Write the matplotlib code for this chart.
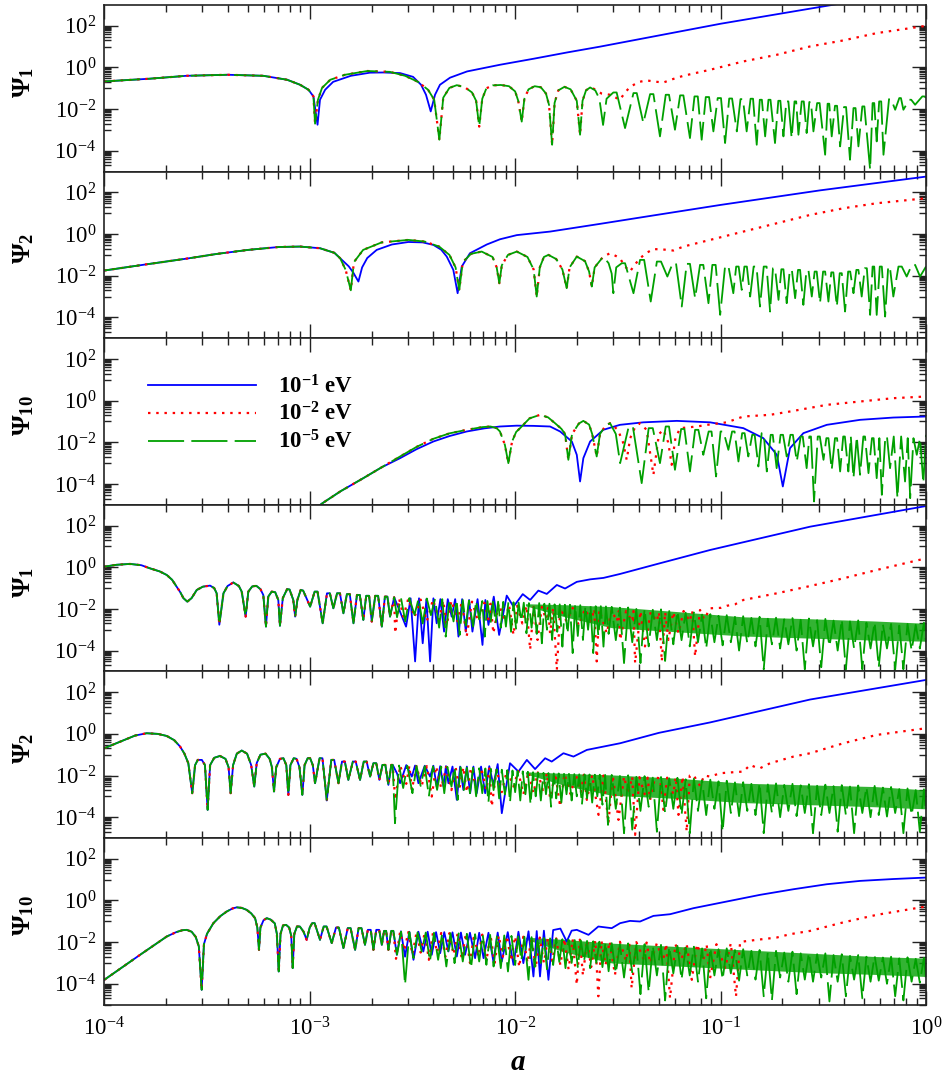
import numpy as np
import matplotlib
matplotlib.use("Agg")
import matplotlib.pyplot as plt
from matplotlib.lines import Line2D
from matplotlib.ticker import FixedLocator, LogLocator, LogFormatterMathtext, NullFormatter

plt.rcParams['font.family'] = 'serif'
plt.rcParams['font.serif'] = ['Liberation Serif', 'DejaVu Serif']
plt.rcParams['mathtext.fontset'] = 'custom'
plt.rcParams['mathtext.rm'] = 'Liberation Serif'
plt.rcParams['mathtext.it'] = 'Liberation Serif:italic'
plt.rcParams['mathtext.bf'] = 'Liberation Serif:bold'

# --- data, pairs of (log10 a, log10 Psi) ---
# top group, Psi_1
t1_all = [(-4.0, -0.67), (-3.78, -0.54), (-3.6, -0.40), (-3.4, -0.35), (-3.226, -0.40), (-3.11, -0.59),
          (-3.047, -0.83), (-3.006, -1.07), (-2.982, -1.39)]
t1_blue = [(-2.962, -2.75), (-2.95, -1.55), (-2.925, -1.07), (-2.886, -0.69), (-2.8, -0.40), (-2.707, -0.25),
           (-2.643, -0.24), (-2.56, -0.27), (-2.497, -0.45), (-2.458, -0.83), (-2.434, -1.31), (-2.411, -2.11),
           (-2.39, -1.31), (-2.366, -0.83), (-2.317, -0.49), (-2.234, -0.19), (-2.074, 0.13), (-1.91, 0.42),
           (-1.748, 0.72), (-1.587, 1.0), (-1.0, 2.1), (-0.459, 3.0), (0.0, 3.8)]
t1_rg = [(-2.974, -2.7), (-2.96, -1.55), (-2.94, -0.98), (-2.9, -0.59), (-2.828, -0.35), (-2.72, -0.17),
         (-2.61, -0.21), (-2.536, -0.40), (-2.473, -0.69), (-2.424, -1.07), (-2.394, -1.55), (-2.369, -3.47),
         (-2.35, -1.45), (-2.32, -0.98), (-2.284, -0.85), (-2.245, -0.95), (-2.21, -1.2), (-2.19, -1.6),
         (-2.175, -2.84), (-2.16, -1.5), (-2.14, -1.0), (-2.11, -0.86), (-2.07, -0.84), (-2.03, -0.9),
         (-2.0, -1.15), (-1.985, -1.6), (-1.968, -2.6), (-1.955, -1.5), (-1.935, -1.05), (-1.905, -0.9),
         (-1.875, -0.95), (-1.85, -1.25), (-1.835, -1.8), (-1.82, -3.71), (-1.808, -1.7), (-1.79, -1.1),
         (-1.76, -0.93), (-1.73, -1.05), (-1.7, -1.6), (-1.684, -3.23), (-1.672, -1.6), (-1.655, -1.1),
         (-1.635, -0.96)]
t1_red = [(-1.61, -1.05), (-1.58, -1.25), (-1.538, -1.31), (-1.51, -1.45), (-1.49, -1.55), (-1.465, -1.2),
          (-1.441, -0.94), (-1.4, -0.70), (-1.36, -0.62), (-1.32, -0.68), (-1.278, -0.72), (-1.23, -0.55),
          (-1.181, -0.40), (-1.051, -0.11), (-0.889, 0.29), (-0.726, 0.61), (-0.564, 1.01), (-0.402, 1.30),
          (-0.24, 1.65), (0.0, 2.0)]
t1_green = [(-1.61, -1.1), (-1.59, -1.5), (-1.572, -2.76), (-1.555, -1.5), (-1.522, -1.20), (-1.506, -1.20),
            (-1.465, -2.91), (-1.424, -1.23), (-1.408, -1.23), (-1.376, -2.67), (-1.343, -1.28), (-1.327, -1.28),
            (-1.295, -3.31), (-1.267, -1.31), (-1.251, -1.31), (-1.222, -2.99), (-1.197, -1.34), (-1.181, -1.34),
            (-1.149, -3.39), (-1.127, -1.39), (-1.111, -1.39), (-1.092, -3.47), (-1.072, -1.42), (-1.056, -1.42),
            (-1.035, -3.07), (-1.014, -1.47), (-0.998, -1.47), (-0.978, -3.63), (-0.958, -1.49), (-0.944, -1.49),
            (-0.921, -3.07), (-0.903, -1.52), (-0.891, -1.52), (-0.873, -3.07), (-0.854, -1.50), (-0.842, -1.50),
            (-0.824, -3.71), (-0.809, -1.55), (-0.799, -1.55), (-0.783, -3.31), (-0.767, -1.55), (-0.757, -1.55),
            (-0.735, -3.63), (-0.719, -1.60), (-0.709, -1.60), (-0.694, -3.31), (-0.68, -1.63), (-0.67, -1.63),
            (-0.654, -3.39), (-0.64, -1.63), (-0.632, -1.63), (-0.621, -3.23), (-0.605, -1.63), (-0.595, -1.63),
            (-0.581, -3.15), (-0.568, -1.66), (-0.56, -1.66), (-0.548, -3.07), (-0.53, -1.71), (-0.518, -1.71),
            (-0.491, -4.19), (-0.479, -1.74), (-0.471, -1.74), (-0.459, -3.31), (-0.443, -1.84), (-0.433, -1.84),
            (-0.418, -3.79), (-0.399, -1.90), (-0.389, -1.90), (-0.37, -4.43), (-0.353, -1.95), (-0.343, -1.95),
            (-0.329, -3.79), (-0.31, -1.87), (-0.3, -1.87), (-0.272, -4.91), (-0.26, -1.71), (-0.252, -1.71),
            (-0.24, -3.55), (-0.228, -1.63), (-0.218, -1.63), (-0.207, -4.19), (-0.18, -1.52), (-0.17, -1.52),
            (-0.15, -2.03), (-0.13, -1.47), (-0.122, -1.47), (-0.11, -2.03), (-0.082, -1.55), (-0.072, -1.55),
            (-0.053, -1.79), (-0.018, -1.39), (-0.008, -1.39), (0.0, -1.45)]

# top group, Psi_2
t2_all = [(-4.0, -1.75), (-3.8, -1.46), (-3.6, -1.18), (-3.45, -0.95), (-3.3, -0.76), (-3.15, -0.62),
          (-3.047, -0.60), (-2.95, -0.68), (-2.88, -0.9), (-2.852, -1.16)]
t2_blue = [(-2.81, -1.55), (-2.788, -1.85), (-2.763, -2.28), (-2.745, -1.6), (-2.72, -1.15), (-2.674, -0.76),
           (-2.6, -0.50), (-2.52, -0.38), (-2.45, -0.40), (-2.398, -0.52), (-2.36, -0.75), (-2.333, -1.08),
           (-2.301, -1.72), (-2.28, -2.84), (-2.26, -1.56), (-2.22, -0.92), (-2.138, -0.50), (-2.074, -0.25),
           (-1.992, -0.05), (-1.83, 0.12), (-1.587, 0.49), (-1.343, 0.87), (-1.0, 1.40), (-0.515, 2.10),
           (0.0, 2.76)]
t2_rg = [(-2.825, -1.72), (-2.8, -2.7), (-2.785, -1.35), (-2.74, -0.76), (-2.65, -0.40), (-2.52, -0.28),
         (-2.44, -0.36), (-2.37, -0.60), (-2.32, -1.0), (-2.29, -1.6), (-2.272, -2.68), (-2.255, -1.35),
         (-2.215, -0.95), (-2.163, -0.84), (-2.11, -1.1), (-2.09, -1.6), (-2.077, -2.36), (-2.065, -1.5),
         (-2.035, -1.0), (-1.992, -0.84), (-1.94, -1.1), (-1.91, -1.7), (-1.895, -3.0), (-1.88, -1.6),
         (-1.86, -1.1), (-1.838, -1.0), (-1.8, -1.2), (-1.77, -1.7), (-1.749, -2.6), (-1.735, -1.6),
         (-1.7, -1.08), (-1.66, -1.3), (-1.64, -1.8), (-1.627, -2.52), (-1.613, -1.6), (-1.571, -1.08)]
t2_red = [(-1.538, -0.92), (-1.51, -1.05), (-1.49, -1.16), (-1.465, -1.56), (-1.441, -1.8), (-1.42, -1.5),
          (-1.392, -1.16), (-1.36, -0.9), (-1.327, -0.72), (-1.28, -0.74), (-1.23, -0.79), (-1.181, -0.60),
          (-1.051, -0.28), (-0.889, 0.12), (-0.726, 0.52), (-0.564, 0.92), (-0.402, 1.24), (-0.24, 1.48),
          (0.0, 1.72)]
t2_green = [(-1.545, -1.4), (-1.53, -1.9), (-1.522, -2.84), (-1.508, -1.6), (-1.481, -1.40), (-1.465, -1.40),
            (-1.424, -2.84), (-1.392, -1.24), (-1.372, -1.24), (-1.34, -3.24), (-1.31, -1.32), (-1.29, -1.32),
            (-1.259, -2.04), (-1.233, -1.40), (-1.217, -1.40), (-1.189, -3.48), (-1.165, -1.43), (-1.149, -1.43),
            (-1.124, -3.08), (-1.1, -1.48), (-1.084, -1.48), (-1.059, -3.32), (-1.04, -1.48), (-1.024, -1.48),
            (-1.002, -3.88), (-0.978, -1.53), (-0.962, -1.53), (-0.938, -2.84), (-0.924, -1.56), (-0.912, -1.56),
            (-0.897, -2.68), (-0.884, -1.56), (-0.872, -1.56), (-0.856, -3.00), (-0.839, -1.56), (-0.825, -1.56),
            (-0.808, -3.48), (-0.79, -1.56), (-0.776, -1.56), (-0.759, -3.72), (-0.745, -1.64), (-0.735, -1.64),
            (-0.718, -3.16), (-0.704, -1.69), (-0.694, -1.69), (-0.678, -3.32), (-0.663, -1.72), (-0.653, -1.72),
            (-0.637, -3.08), (-0.623, -1.72), (-0.613, -1.72), (-0.597, -3.40), (-0.582, -1.75), (-0.572, -1.75),
            (-0.556, -3.00), (-0.542, -1.80), (-0.532, -1.80), (-0.516, -3.32), (-0.501, -1.80), (-0.491, -1.80),
            (-0.475, -3.24), (-0.461, -1.84), (-0.451, -1.84), (-0.434, -3.48), (-0.42, -1.88), (-0.41, -1.88),
            (-0.394, -3.72), (-0.379, -1.80), (-0.369, -1.80), (-0.353, -2.84), (-0.339, -1.72), (-0.329, -1.72),
            (-0.313, -3.00), (-0.298, -1.64), (-0.288, -1.64), (-0.272, -3.88), (-0.26, -1.56), (-0.252, -1.56),
            (-0.24, -3.88), (-0.225, -1.56), (-0.215, -1.56), (-0.199, -3.96), (-0.184, -1.56), (-0.176, -1.56),
            (-0.159, -3.00), (-0.134, -1.56), (-0.118, -1.56), (-0.094, -2.04), (-0.069, -1.48), (-0.053, -1.48),
            (-0.029, -2.04), (0.0, -1.56)]

# top group, Psi_10
t10_all = [(-2.96, -5.1), (-2.942, -4.95), (-2.85, -4.35), (-2.739, -3.72), (-2.65, -3.2)]
t10_blue = [(-2.56, -2.76), (-2.48, -2.33), (-2.398, -1.96), (-2.32, -1.7), (-2.236, -1.48), (-2.15, -1.33),
            (-2.074, -1.24), (-1.992, -1.20), (-1.911, -1.21), (-1.83, -1.24), (-1.781, -1.48), (-1.724, -1.96),
            (-1.7, -2.60), (-1.684, -3.88), (-1.668, -2.76), (-1.635, -1.96), (-1.571, -1.40), (-1.49, -1.16),
            (-1.376, -1.04), (-1.213, -0.97), (-1.051, -1.04), (-0.889, -1.32), (-0.792, -1.80), (-0.726, -2.60),
            (-0.697, -4.12), (-0.662, -2.28), (-0.597, -1.56), (-0.483, -1.16), (-0.321, -0.92), (-0.159, -0.81),
            (0.0, -0.76)]
t10_rg = [(-2.56, -2.68), (-2.48, -2.22), (-2.398, -1.83), (-2.32, -1.57), (-2.236, -1.40), (-2.16, -1.27),
          (-2.12, -1.24), (-2.09, -1.32), (-2.074, -1.48), (-2.05, -2.12), (-2.033, -3.0), (-2.015, -1.96),
          (-1.995, -1.5), (-1.976, -1.32), (-1.93, -0.85), (-1.879, -0.68), (-1.84, -0.8), (-1.806, -1.08),
          (-1.775, -1.35), (-1.757, -1.6), (-1.741, -2.84), (-1.723, -1.6), (-1.69, -1.1), (-1.668, -0.97),
          (-1.64, -1.15), (-1.625, -1.6), (-1.603, -2.68), (-1.587, -1.6), (-1.56, -1.2), (-1.538, -1.08)]
t10_red = [(-1.5, -1.4), (-1.475, -2.0), (-1.457, -2.84), (-1.44, -1.8), (-1.415, -1.25), (-1.392, -1.08),
           (-1.36, -1.4), (-1.327, -3.56), (-1.3, -1.6), (-1.278, -1.40), (-1.255, -2.0), (-1.238, -3.08),
           (-1.22, -1.8), (-1.197, -1.32), (-1.116, -1.24), (-1.051, -1.14), (-0.97, -1.04), (-0.889, -0.76),
           (-0.759, -0.68), (-0.662, -0.52), (-0.483, -0.20), (-0.321, -0.04), (-0.159, 0.12), (0.0, 0.20)]
t10_green = [(-1.51, -1.6), (-1.489, -3.00), (-1.447, -1.24), (-1.427, -1.24), (-1.384, -3.96), (-1.35, -1.32),
             (-1.33, -1.32), (-1.295, -3.00), (-1.267, -1.24), (-1.251, -1.24), (-1.222, -3.32), (-1.192, -1.36),
             (-1.176, -1.36), (-1.149, -3.40), (-1.124, -1.40), (-1.108, -1.40), (-1.084, -2.60), (-1.058, -1.48),
             (-1.044, -1.48), (-1.022, -3.64), (-1.0, -1.48), (-0.986, -1.48), (-0.962, -2.36), (-0.944, -1.48),
             (-0.932, -1.48), (-0.913, -2.92), (-0.895, -1.56), (-0.883, -1.56), (-0.865, -2.68), (-0.846, -1.64),
             (-0.834, -1.64), (-0.816, -3.16), (-0.8, -1.56), (-0.79, -1.56), (-0.775, -3.40), (-0.756, -1.64),
             (-0.746, -1.64), (-0.727, -3.24), (-0.708, -1.64), (-0.696, -1.64), (-0.678, -2.68), (-0.66, -1.64),
             (-0.648, -1.64), (-0.629, -2.92), (-0.61, -1.72), (-0.6, -1.72), (-0.581, -3.24), (-0.568, -1.72),
             (-0.56, -1.72), (-0.545, -4.84), (-0.527, -1.72), (-0.517, -1.72), (-0.499, -2.84), (-0.485, -1.80),
             (-0.475, -1.80), (-0.459, -3.32), (-0.443, -1.80), (-0.433, -1.80), (-0.418, -3.40), (-0.403, -1.72),
             (-0.395, -1.72), (-0.378, -3.40), (-0.366, -1.72), (-0.353, -3.72), (-0.337, -1.72), (-0.321, -3.56),
             (-0.305, -1.72), (-0.297, -1.72), (-0.28, -3.48), (-0.263, -1.80), (-0.255, -1.80), (-0.24, -3.72),
             (-0.227, -1.80), (-0.215, -4.52), (-0.198, -1.72), (-0.19, -1.72), (-0.175, -3.24), (-0.157, -1.72),
             (-0.139, -4.68), (-0.121, -1.72), (-0.102, -3.88), (-0.089, -1.80), (-0.077, -4.68), (-0.061, -1.80),
             (-0.045, -2.60), (-0.029, -1.80), (-0.013, -3.96), (0.0, -1.64)]

# bottom group, Psi_1
b1_all = [(-4.0, 0.03), (-3.94, 0.12), (-3.875, 0.16), (-3.82, 0.10), (-3.778, -0.05), (-3.73, -0.2),
          (-3.696, -0.37), (-3.67, -0.6), (-3.648, -0.93), (-3.63, -1.2), (-3.615, -1.48), (-3.596, -1.65),
          (-3.575, -1.48), (-3.55, -1.09), (-3.52, -0.93), (-3.485, -0.88), (-3.465, -1.0), (-3.453, -1.25),
          (-3.44, -2.76), (-3.42, -1.25), (-3.4, -0.9), (-3.372, -0.73), (-3.345, -0.9), (-3.331, -1.17),
          (-3.312, -2.37), (-3.299, -1.17), (-3.28, -0.92), (-3.26, -0.89), (-3.24, -1.05), (-3.226, -1.33),
          (-3.213, -2.85), (-3.202, -1.41), (-3.185, -1.17), (-3.168, -1.2), (-3.153, -1.57), (-3.145, -2.81),
          (-3.131, -1.48), (-3.11, -1.05), (-3.098, -1.07), (-3.08, -1.57), (-3.071, -2.37), (-3.06, -1.57),
          (-3.044, -1.09), (-3.032, -1.12), (-3.012, -1.57), (-2.998, -1.89), (-2.976, -1.17), (-2.962, -1.17),
          (-2.937, -2.69), (-2.916, -1.25), (-2.902, -1.25), (-2.885, -1.97), (-2.867, -1.25), (-2.853, -1.25),
          (-2.836, -2.21), (-2.819, -1.29), (-2.805, -1.29), (-2.787, -2.69), (-2.77, -1.33), (-2.756, -1.33),
          (-2.739, -2.53), (-2.725, -1.37), (-2.711, -1.37), (-2.698, -2.61), (-2.681, -1.37), (-2.667, -1.37),
          (-2.649, -2.85), (-2.634, -1.41), (-2.622, -1.41), (-2.609, -2.37), (-2.589, -1.44)]
b1_blue = [(-2.531, -2.85), (-2.509, -1.49), (-2.487, -4.52), (-2.468, -1.49), (-2.45, -3.65), (-2.432, -1.53),
           (-2.414, -4.52), (-2.398, -1.49), (-2.382, -2.69), (-2.364, -1.53), (-2.346, -3.09), (-2.328, -1.53),
           (-2.309, -2.37), (-2.292, -1.53), (-2.276, -3.33), (-2.258, -1.53), (-2.24, -3.09), (-2.224, -1.57),
           (-2.208, -3.09), (-2.183, -1.53), (-2.159, -3.73), (-2.145, -1.57), (-2.13, -2.77), (-2.104, -1.41),
           (-2.078, -3.25), (-2.041, -1.36), (-2.008, -1.89), (-1.963, -1.29), (-1.927, -1.57), (-1.887, -1.12),
           (-1.846, -1.28), (-1.797, -0.85), (-1.757, -1.02), (-1.7, -0.70), (-1.635, -0.58), (-1.57, -0.51),
           (-1.489, -0.32), (-1.3, 0.18), (-1.051, 0.83), (-0.564, 1.95), (0.0, 2.94)]
b1_red = [(-2.584, -3.17), (-2.565, -1.5), (-2.544, -2.37), (-2.52, -1.5), (-2.49, -2.4), (-2.46, -1.55),
          (-2.43, -2.6), (-2.4, -1.55), (-2.37, -2.5), (-2.35, -1.6), (-2.333, -2.77), (-2.31, -1.6),
          (-2.28, -2.6), (-2.26, -1.65), (-2.236, -3.33), (-2.21, -1.65), (-2.18, -2.6), (-2.15, -1.7),
          (-2.13, -2.5), (-2.12, -1.75), (-2.106, -3.17), (-2.08, -1.75), (-2.05, -2.6), (-2.03, -1.8),
          (-2.008, -3.25), (-1.99, -1.85), (-1.965, -2.7), (-1.945, -1.85), (-1.927, -3.96), (-1.91, -1.9),
          (-1.891, -3.49), (-1.87, -1.9), (-1.85, -2.5), (-1.84, -1.95), (-1.83, -3.17), (-1.815, -1.95),
          (-1.797, -4.92), (-1.78, -1.95), (-1.75, -2.6), (-1.72, -1.95), (-1.69, -2.8), (-1.66, -2.0),
          (-1.63, -2.6), (-1.615, -2.0), (-1.603, -4.52), (-1.59, -2.05), (-1.554, -3.17), (-1.53, -2.05),
          (-1.505, -2.6), (-1.495, -2.1), (-1.489, -3.49), (-1.46, -2.1), (-1.43, -2.6), (-1.424, -2.1),
          (-1.416, -4.6), (-1.39, -2.1), (-1.368, -3.8), (-1.34, -2.15), (-1.31, -2.6), (-1.3, -2.15),
          (-1.286, -4.52), (-1.27, -2.15), (-1.254, -3.49), (-1.23, -2.15), (-1.205, -3.17), (-1.18, -2.1),
          (-1.15, -2.6), (-1.138, -2.1), (-1.124, -4.28), (-1.1, -2.05), (-1.08, -2.5), (-1.051, -1.97),
          (-1.0, -1.95), (-0.97, -1.85), (-0.93, -1.78), (-0.889, -1.57), (-0.808, -1.41), (-0.726, -1.25),
          (-0.564, -0.90), (-0.402, -0.53), (-0.24, -0.13), (0.0, 0.43)]
b1_green = [(-2.575, -2.4), (-2.556, -1.46), (-2.535, -2.6), (-2.515, -1.48), (-2.49, -2.29), (-2.47, -1.5),
            (-2.45, -2.7), (-2.43, -1.5), (-2.41, -2.3), (-2.39, -1.52), (-2.37, -2.9), (-2.355, -1.53),
            (-2.338, -3.33), (-2.32, -1.55), (-2.3, -2.6), (-2.285, -1.55), (-2.27, -3.25), (-2.255, -1.57),
            (-2.24, -2.8), (-2.225, -1.6), (-2.205, -2.85), (-2.19, -1.6), (-2.175, -2.5), (-2.16, -1.62),
            (-2.148, -3.33), (-2.135, -1.62), (-2.12, -2.7), (-2.108, -1.65), (-2.095, -2.69), (-2.083, -1.65),
            (-2.07, -2.9), (-2.058, -1.66), (-2.045, -2.85), (-2.033, -1.68), (-2.02, -3.1), (-2.008, -1.68),
            (-1.995, -3.01), (-1.983, -1.7), (-1.97, -2.6), (-1.958, -1.7), (-1.945, -3.17), (-1.933, -1.72),
            (-1.92, -2.9), (-1.908, -1.72), (-1.895, -3.2), (-1.883, -1.72), (-1.87, -3.65), (-1.858, -1.75),
            (-1.845, -3.0), (-1.833, -1.75), (-1.82, -3.49), (-1.808, -1.78), (-1.795, -3.1), (-1.783, -1.78),
            (-1.77, -3.81), (-1.758, -1.8), (-1.745, -3.2), (-1.733, -1.8), (-1.72, -4.12), (-1.708, -1.8),
            (-1.695, -3.3), (-1.683, -1.82), (-1.67, -3.49), (-1.658, -1.85), (-1.645, -3.0), (-1.633, -1.85),
            (-1.62, -4.12), (-1.608, -1.87), (-1.595, -3.3), (-1.583, -1.87), (-1.57, -3.81), (-1.558, -1.88),
            (-1.545, -3.2)]

# bottom group, Psi_2
b2_all = [(-4.0, -0.69), (-3.922, -0.37), (-3.85, -0.08), (-3.794, 0.03), (-3.74, 0.0), (-3.696, -0.10),
          (-3.66, -0.3), (-3.631, -0.61), (-3.61, -0.95), (-3.591, -1.41), (-3.572, -2.85), (-3.558, -1.5),
          (-3.545, -1.25), (-3.525, -1.25), (-3.51, -1.5), (-3.497, -3.65), (-3.485, -1.5), (-3.465, -1.15),
          (-3.437, -1.06), (-3.41, -1.2), (-3.395, -1.6), (-3.385, -2.85), (-3.373, -1.5), (-3.355, -0.95),
          (-3.331, -0.80), (-3.305, -0.95), (-3.285, -1.5), (-3.27, -2.53), (-3.258, -1.4), (-3.24, -1.0),
          (-3.215, -0.95), (-3.195, -1.2), (-3.184, -1.6), (-3.174, -2.77), (-3.163, -1.6), (-3.145, -1.2),
          (-3.128, -1.17), (-3.114, -1.5), (-3.104, -2.93), (-3.094, -1.5), (-3.078, -1.17), (-3.064, -1.2),
          (-3.05, -1.6), (-3.036, -2.93), (-3.025, -1.5), (-3.01, -1.17), (-2.998, -1.17), (-2.985, -1.5),
          (-2.974, -2.37), (-2.952, -1.17), (-2.938, -1.17), (-2.917, -3.2), (-2.895, -1.25), (-2.881, -1.25),
          (-2.86, -2.37), (-2.843, -1.33), (-2.829, -1.33), (-2.812, -2.21), (-2.79, -1.33), (-2.776, -1.33),
          (-2.755, -2.21), (-2.737, -1.33), (-2.723, -1.33), (-2.706, -2.05), (-2.69, -1.41), (-2.676, -1.41),
          (-2.661, -2.21), (-2.646, -1.49), (-2.632, -1.49), (-2.617, -2.45), (-2.603, -1.49), (-2.596, -1.49)]
b2_blue = [(-2.575, -1.9), (-2.56, -2.37), (-2.53, -1.5), (-2.503, -2.05), (-2.487, -1.52), (-2.471, -2.37),
           (-2.44, -1.53), (-2.414, -2.05), (-2.398, -1.53), (-2.382, -2.53), (-2.365, -1.55), (-2.349, -2.53),
           (-2.337, -1.55), (-2.325, -2.37), (-2.305, -1.57), (-2.284, -3.17), (-2.268, -1.57), (-2.252, -2.69),
           (-2.235, -1.57), (-2.219, -2.85), (-2.203, -1.57), (-2.187, -2.85), (-2.166, -1.57), (-2.146, -2.85),
           (-2.126, -1.55), (-2.106, -2.45), (-2.085, -1.45), (-2.065, -3.81), (-2.025, -1.41), (-1.984, -1.81),
           (-1.943, -1.25), (-1.903, -1.69), (-1.854, -1.17), (-1.822, -1.33), (-1.765, -0.93), (-1.716, -1.09),
           (-1.651, -0.77), (-1.57, -0.61), (-1.489, -0.45), (-1.3, 0.05), (-1.051, 0.55), (-0.564, 1.65),
           (0.0, 2.59)]
b2_red = [(-2.584, -3.17), (-2.56, -1.52), (-2.53, -2.4), (-2.515, -1.53), (-2.503, -2.69), (-2.48, -1.54),
          (-2.455, -2.5), (-2.43, -1.55), (-2.406, -3.01), (-2.385, -1.56), (-2.36, -2.6), (-2.335, -1.58),
          (-2.31, -2.7), (-2.29, -1.59), (-2.272, -2.69), (-2.252, -1.6), (-2.235, -2.8), (-2.215, -1.62),
          (-2.19, -2.6), (-2.165, -1.64), (-2.14, -2.7), (-2.125, -1.66), (-2.114, -3.49), (-2.09, -1.7),
          (-2.065, -2.8), (-2.04, -1.74), (-2.008, -2.53), (-1.985, -1.78), (-1.96, -2.9), (-1.935, -1.82),
          (-1.911, -2.85), (-1.89, -1.85), (-1.865, -2.7), (-1.845, -1.88), (-1.83, -3.09), (-1.805, -1.9),
          (-1.781, -3.49), (-1.76, -1.92), (-1.73, -2.9), (-1.705, -1.94), (-1.68, -2.8), (-1.665, -1.96),
          (-1.651, -3.17), (-1.625, -1.98), (-1.594, -3.89), (-1.57, -2.0), (-1.546, -4.29), (-1.525, -2.0),
          (-1.497, -4.13), (-1.47, -2.05), (-1.45, -2.9), (-1.43, -2.05), (-1.416, -4.85), (-1.395, -2.08),
          (-1.37, -2.9), (-1.355, -2.1), (-1.343, -3.17), (-1.32, -2.1), (-1.295, -2.13), (-1.278, -3.65),
          (-1.26, -2.1), (-1.23, -2.9), (-1.218, -2.08), (-1.205, -3.89), (-1.185, -2.05), (-1.165, -4.69),
          (-1.15, -2.0), (-1.132, -1.97), (-1.1, -2.5), (-1.08, -2.0), (-1.051, -2.05), (-1.002, -1.89),
          (-0.95, -1.85), (-0.889, -1.81), (-0.856, -1.49), (-0.83, -1.6), (-0.808, -1.65), (-0.759, -1.41),
          (-0.645, -1.09), (-0.564, -0.93), (-0.402, -0.45), (-0.24, -0.05), (0.0, 0.27)]
b2_green = [(-2.585, -4.29), (-2.565, -1.52), (-2.545, -2.6), (-2.525, -1.53), (-2.5, -2.85), (-2.48, -1.54),
            (-2.46, -2.5), (-2.44, -1.55), (-2.42, -3.0), (-2.4, -1.56), (-2.38, -2.69), (-2.36, -1.57),
            (-2.345, -2.85), (-2.33, -1.58), (-2.31, -2.53), (-2.295, -1.59), (-2.28, -3.17), (-2.265, -1.6),
            (-2.25, -2.7), (-2.235, -1.62), (-2.22, -2.85), (-2.205, -1.63), (-2.19, -3.0), (-2.175, -1.65),
            (-2.16, -2.85), (-2.145, -1.66), (-2.13, -3.3), (-2.118, -1.68), (-2.105, -2.7), (-2.09, -1.7),
            (-2.078, -3.1), (-2.065, -1.72), (-2.05, -2.9), (-2.038, -1.74), (-2.025, -3.3), (-2.013, -1.76),
            (-2.0, -2.8), (-1.988, -1.78), (-1.975, -3.2), (-1.963, -1.8), (-1.95, -2.9), (-1.938, -1.82),
            (-1.925, -3.4), (-1.913, -1.84), (-1.9, -3.0), (-1.888, -1.86), (-1.875, -3.2), (-1.862, -1.87),
            (-1.85, -2.9), (-1.838, -1.88), (-1.825, -3.5), (-1.812, -1.9), (-1.8, -3.1), (-1.788, -1.9),
            (-1.775, -3.3), (-1.762, -1.92), (-1.75, -2.9), (-1.738, -1.92), (-1.725, -3.2), (-1.712, -1.93),
            (-1.7, -3.0), (-1.688, -1.94), (-1.675, -3.4), (-1.662, -1.95), (-1.65, -3.1), (-1.638, -1.95),
            (-1.625, -3.3), (-1.612, -1.96), (-1.6, -3.0), (-1.588, -1.96), (-1.575, -3.4), (-1.562, -1.97),
            (-1.548, -4.37)]

# bottom group, Psi_10
b10_all = [(-4.0, -3.81), (-3.826, -2.61), (-3.696, -1.73), (-3.65, -1.52), (-3.62, -1.43), (-3.599, -1.41),
           (-3.575, -1.50), (-3.555, -1.75), (-3.54, -2.2), (-3.526, -4.29), (-3.515, -2.1), (-3.5, -1.6),
           (-3.469, -1.09), (-3.435, -0.75), (-3.404, -0.53), (-3.375, -0.38), (-3.355, -0.33), (-3.33, -0.36),
           (-3.307, -0.45), (-3.285, -0.62), (-3.266, -0.85), (-3.255, -1.3), (-3.247, -2.37), (-3.24, -1.3),
           (-3.225, -0.95), (-3.209, -0.85), (-3.19, -0.92), (-3.17, -1.1), (-3.16, -1.6), (-3.151, -3.41),
           (-3.142, -1.6), (-3.13, -1.2), (-3.115, -1.17), (-3.1, -1.3), (-3.09, -1.7), (-3.083, -3.25),
           (-3.075, -1.6), (-3.062, -1.25), (-3.048, -1.25), (-3.03, -1.5), (-3.015, -1.89), (-3.0, -1.3),
           (-2.988, -1.09), (-2.976, -1.09), (-2.95, -1.89), (-2.932, -1.25), (-2.918, -1.25), (-2.893, -2.05),
           (-2.872, -1.30), (-2.858, -1.30), (-2.836, -2.29), (-2.815, -1.33), (-2.801, -1.33), (-2.779, -2.37),
           (-2.762, -1.33), (-2.748, -1.33), (-2.731, -2.13), (-2.717, -1.41), (-2.703, -1.41), (-2.69, -2.37),
           (-2.676, -1.41), (-2.662, -1.41), (-2.649, -2.13), (-2.638, -1.46), (-2.628, -1.46), (-2.617, -2.37),
           (-2.603, -1.46), (-2.593, -1.46)]
b10_blue = [(-2.576, -2.61), (-2.556, -1.48), (-2.536, -2.7), (-2.515, -1.5), (-2.495, -2.85), (-2.471, -1.5),
            (-2.447, -2.45), (-2.426, -1.5), (-2.406, -2.61), (-2.385, -1.52), (-2.365, -2.53), (-2.345, -1.52),
            (-2.325, -2.45), (-2.305, -1.53), (-2.284, -2.69), (-2.264, -1.54), (-2.244, -2.61), (-2.22, -1.55),
            (-2.195, -2.77), (-2.175, -1.55), (-2.154, -2.77), (-2.13, -1.55), (-2.106, -2.93), (-2.085, -1.54),
            (-2.065, -2.93), (-2.036, -1.52), (-2.008, -3.09), (-1.984, -1.5), (-1.96, -3.01), (-1.935, -1.48),
            (-1.911, -3.65), (-1.895, -1.47), (-1.879, -3.65), (-1.86, -1.45), (-1.838, -3.81), (-1.815, -1.42),
            (-1.78, -1.35), (-1.749, -1.97), (-1.725, -1.45), (-1.7, -1.41), (-1.643, -1.65), (-1.595, -1.25),
            (-1.53, -1.33), (-1.489, -1.09), (-1.441, -0.98), (-1.392, -1.01), (-1.327, -0.74), (-1.246, -0.66),
            (-1.132, -0.37), (-0.97, -0.05), (-0.808, 0.27), (-0.645, 0.54), (-0.483, 0.78), (-0.321, 0.94),
            (-0.159, 1.03), (0.0, 1.10)]
b10_red = [(-2.58, -2.8), (-2.56, -1.5), (-2.54, -2.4), (-2.52, -1.52), (-2.5, -2.6), (-2.48, -1.52),
           (-2.46, -2.5), (-2.44, -1.53), (-2.42, -2.85), (-2.4, -1.55), (-2.38, -2.5), (-2.36, -1.56),
           (-2.34, -2.7), (-2.32, -1.57), (-2.3, -2.6), (-2.28, -1.58), (-2.26, -2.8), (-2.24, -1.6),
           (-2.22, -3.0), (-2.2, -1.62), (-2.18, -2.7), (-2.16, -1.64), (-2.14, -2.9), (-2.12, -1.66),
           (-2.1, -3.0), (-2.08, -1.68), (-2.06, -2.7), (-2.04, -1.7), (-2.02, -2.9), (-2.0, -1.72),
           (-1.98, -3.2), (-1.96, -1.74), (-1.94, -3.0), (-1.92, -1.76), (-1.9, -3.25), (-1.88, -1.78),
           (-1.86, -3.0), (-1.84, -1.8), (-1.82, -2.9), (-1.8, -1.82), (-1.78, -3.1), (-1.76, -1.84),
           (-1.74, -3.3), (-1.72, -1.86), (-1.7, -4.05), (-1.685, -1.88), (-1.67, -3.6), (-1.65, -1.9),
           (-1.63, -3.2), (-1.61, -1.92), (-1.595, -4.6), (-1.58, -1.94), (-1.56, -3.1), (-1.54, -1.96),
           (-1.514, -3.57), (-1.49, -1.98), (-1.46, -2.9), (-1.445, -2.0), (-1.433, -4.21), (-1.41, -2.0),
           (-1.375, -2.8), (-1.36, -2.02), (-1.343, -3.01), (-1.31, -2.05), (-1.28, -2.9), (-1.265, -2.08),
           (-1.246, -4.69), (-1.22, -2.1), (-1.19, -2.8), (-1.165, -2.08), (-1.14, -3.81), (-1.115, -2.1),
           (-1.085, -2.9), (-1.068, -2.1), (-1.051, -3.73), (-1.02, -2.1), (-0.978, -3.25), (-0.95, -2.05),
           (-0.925, -4.61), (-0.905, -2.0), (-0.889, -1.97), (-0.824, -1.89), (-0.727, -1.78), (-0.662, -1.62),
           (-0.564, -1.46), (-0.402, -1.05), (-0.24, -0.69), (0.0, -0.29)]
b10_green = [(-2.575, -2.6), (-2.555, -1.5), (-2.536, -4.05), (-2.515, -1.52), (-2.495, -2.77), (-2.475, -1.53),
             (-2.455, -2.45), (-2.435, -1.54), (-2.415, -2.93), (-2.395, -1.55), (-2.375, -2.85), (-2.355, -1.56),
             (-2.335, -3.17), (-2.315, -1.57), (-2.295, -3.01), (-2.275, -1.58), (-2.255, -2.93), (-2.235, -1.6),
             (-2.215, -3.25), (-2.195, -1.62), (-2.175, -2.93), (-2.158, -1.63), (-2.14, -3.09), (-2.122, -1.65),
             (-2.105, -3.17), (-2.088, -1.66), (-2.07, -3.25), (-2.053, -1.68), (-2.035, -3.41), (-2.018, -1.7),
             (-2.0, -3.1), (-1.985, -1.72), (-1.97, -2.9), (-1.955, -1.74), (-1.935, -3.81), (-1.92, -1.76),
             (-1.905, -3.2), (-1.89, -1.78), (-1.875, -3.0), (-1.86, -1.8), (-1.845, -3.3), (-1.83, -1.82),
             (-1.815, -3.1), (-1.8, -1.84), (-1.785, -2.95), (-1.77, -1.86), (-1.755, -3.25), (-1.74, -1.88),
             (-1.725, -3.0), (-1.71, -1.9), (-1.695, -3.2), (-1.68, -1.92), (-1.665, -2.95), (-1.65, -1.94),
             (-1.635, -3.25), (-1.62, -1.96), (-1.605, -3.0), (-1.59, -1.98), (-1.575, -3.2), (-1.56, -2.0),
             (-1.545, -3.4)]

# dense noisy tail of the green curves (alternating crest / trough) in the bottom group
band_la = [-1.53, -1.51, -1.49, -1.47, -1.45, -1.43, -1.41, -1.39, -1.37, -1.35,
           -1.33, -1.31, -1.29, -1.27, -1.25, -1.23, -1.21, -1.19, -1.17, -1.15,
           -1.13, -1.11, -1.09, -1.07, -1.05, -1.03, -1.01, -0.99, -0.97, -0.95,
           -0.93, -0.91, -0.89, -0.87, -0.85, -0.83, -0.81, -0.79, -0.77, -0.75,
           -0.73, -0.71, -0.69, -0.67, -0.65, -0.63, -0.61, -0.59, -0.57, -0.55,
           -0.53, -0.51, -0.49, -0.47, -0.45, -0.43, -0.41, -0.39, -0.37, -0.35,
           -0.33, -0.31, -0.29, -0.27, -0.25, -0.23, -0.21, -0.19, -0.17, -0.15,
           -0.13, -0.11, -0.09, -0.07, -0.05, -0.03, -0.01, 0.0]
b1_band = [-1.90, -3.5, -1.94, -4.6, -1.93, -3.6, -2.0, -4.6, -1.98, -3.8,
           -2.04, -3.5, -2.02, -4.5, -2.1, -3.7, -2.1, -3.5, -2.18, -3.8,
           -2.17, -3.6, -2.27, -3.9, -2.25, -3.6, -2.33, -3.75, -2.3, -3.6,
           -2.38, -4.0, -2.35, -3.65, -2.43, -3.8, -2.38, -4.9, -2.47, -3.7,
           -2.42, -3.9, -2.5, -3.7, -2.44, -4.0, -2.52, -4.9, -2.46, -3.8,
           -2.54, -4.8, -2.48, -3.8, -2.56, -4.0, -2.5, -4.9, -2.6, -3.9,
           -2.55, -4.9, -2.66, -3.9, -2.63, -4.8, -2.73, -3.9, -2.72, -4.9,
           -2.8, -4.9, -2.72, -4.0, -2.76, -3.9, -2.66, -3.6]
b2_band = [-1.97, -3.6, -2.02, -4.77, -1.99, -4.6, -2.06, -3.7, -2.03, -3.5,
           -2.1, -4.7, -2.07, -3.8, -2.13, -3.6, -2.11, -3.9, -2.18, -4.77,
           -2.15, -3.7, -2.23, -3.9, -2.2, -3.6, -2.28, -4.7, -2.25, -3.8,
           -2.33, -3.95, -2.32, -3.7, -2.4, -3.9, -2.35, -4.77, -2.43, -3.8,
           -2.38, -4.0, -2.45, -3.7, -2.4, -3.95, -2.47, -3.8, -2.42, -4.77,
           -2.49, -3.9, -2.44, -3.8, -2.51, -4.7, -2.46, -3.9, -2.53, -4.77,
           -2.48, -3.8, -2.55, -4.0, -2.5, -3.9, -2.58, -3.97, -2.55, -3.8,
           -2.65, -4.77, -2.62, -3.9, -2.7, -4.7, -2.66, -3.8]
b10_band = [-2.05, -3.5, -2.1, -3.7, -2.06, -3.45, -2.13, -4.5, -2.1, -4.4,
            -2.17, -3.6, -2.13, -4.8, -2.21, -3.5, -2.18, -3.8, -2.26, -3.6,
            -2.22, -3.9, -2.3, -4.7, -2.26, -3.6, -2.34, -3.8, -2.3, -3.5,
            -2.38, -3.85, -2.34, -3.6, -2.42, -3.8, -2.38, -4.6, -2.46, -4.8,
            -2.42, -3.7, -2.5, -3.9, -2.46, -4.5, -2.54, -3.8, -2.5, -3.9,
            -2.58, -3.7, -2.54, -4.85, -2.62, -3.9, -2.58, -4.6, -2.66, -3.8,
            -2.62, -4.7, -2.7, -3.9, -2.66, -3.85, -2.74, -4.0, -2.7, -4.6,
            -2.78, -4.8, -2.73, -3.9, -2.8, -3.95, -2.75, -3.8]

# where that noise is so dense it reads as a solid strip: upper and lower edge of the strip
env_la = [-1.95, -1.75, -1.53, -1.21, -0.89, -0.57, -0.25, 0.0]
b1_env_top = [-1.75, -1.8, -1.89, -2.13, -2.38, -2.47, -2.58, -2.69]
b1_env_low = [-1.85, -2.4, -2.9, -3.1, -3.3, -3.4, -3.5, -3.55]
b2_env_top = [-1.82, -1.9, -1.97, -2.13, -2.37, -2.45, -2.53, -2.69]
b2_env_low = [-1.92, -2.5, -2.95, -3.1, -3.3, -3.4, -3.5, -3.6]
b10_env_top = [-1.76, -1.88, -2.05, -2.21, -2.37, -2.53, -2.69, -2.77]
b10_env_low = [-1.86, -2.5, -3.0, -3.15, -3.3, -3.45, -3.55, -3.65]

sub_labels = ['1', '2', '10', '1', '2', '10']
legend_labels = ['-1', '-2', '-5']

BLUE = '#0000ff'
RED = '#ff0000'
GREEN = '#00a000'


def curve(*parts):
    arr = np.array([p for part in parts for p in part], dtype=float)
    return 10 ** arr[:, 0], 10 ** arr[:, 1]


panels = [
    ([t1_all, t1_blue], [t1_all, t1_rg, t1_red], [t1_all, t1_rg, t1_green], None),
    ([t2_all, t2_blue], [t2_all, t2_rg, t2_red], [t2_all, t2_rg, t2_green], None),
    ([t10_all, t10_blue], [t10_all, t10_rg, t10_red], [t10_all, t10_rg, t10_green], None),
    ([b1_all, b1_blue], [b1_all, b1_red], [b1_all, b1_green, list(zip(band_la, b1_band))],
     (b1_env_top, b1_env_low)),
    ([b2_all, b2_blue], [b2_all, b2_red], [b2_all, b2_green, list(zip(band_la, b2_band))],
     (b2_env_top, b2_env_low)),
    ([b10_all, b10_blue], [b10_all, b10_red], [b10_all, b10_green, list(zip(band_la, b10_band))],
     (b10_env_top, b10_env_low)),
]

W, H = 948, 1074
left, right = 104.3, 926.0
top0, ph = 5.0, 166.6

fig = plt.figure(figsize=(W / 100, H / 100), dpi=100)

y_major = [1e-4, 1e-2, 1e0, 1e2]
y_minor = [j * 10.0 ** (k - 1) for k in (-4, -2, 0, 2) for j in range(1, 10)]

axes = []
for i, (blue, red, green, env) in enumerate(panels):
    top = top0 + i * ph
    ax = fig.add_axes([left / W, 1 - (top + ph) / H, (right - left) / W, ph / H])
    axes.append(ax)

    ax.plot(*curve(*blue), color=BLUE, lw=1.3, ls='-')
    ax.plot(*curve(*red), color=RED, lw=1.6, ls=(0, (1.1, 2.6)))
    if env is not None:
        ax.fill_between(10 ** np.array(env_la), 10 ** np.array(env[0]), 10 ** np.array(env[1]),
                        color=GREEN, alpha=0.8, lw=0, zorder=1.9)
    ax.plot(*curve(*green), color=GREEN, lw=1.3, ls=(0, (20, 4)))

    ax.set_xscale('log')
    ax.set_yscale('log')
    ax.set_xlim(1e-4, 1)
    ax.set_ylim(1e-5, 1e3)

    ax.yaxis.set_major_locator(FixedLocator(y_major))
    ax.yaxis.set_minor_locator(FixedLocator(y_minor))
    ax.yaxis.set_major_formatter(LogFormatterMathtext())
    ax.yaxis.set_minor_formatter(NullFormatter())
    ax.xaxis.set_major_locator(LogLocator(base=10, numticks=10))
    ax.xaxis.set_minor_locator(LogLocator(base=10, subs=np.arange(2, 10), numticks=10))
    ax.xaxis.set_minor_formatter(NullFormatter())

    ax.tick_params(which='both', direction='in', top=True, right=True, width=1.0, color='#222222')
    ax.tick_params(which='major', length=10)
    ax.tick_params(which='minor', length=5)
    ax.tick_params(axis='y', labelsize=16.5, pad=6)
    ax.tick_params(axis='x', labelsize=16.5, pad=9)
    if i < 5:
        ax.tick_params(axis='x', labelbottom=False)
    for s in ax.spines.values():
        s.set_linewidth(1.2)
        s.set_color('#222222')

    fig.text(24 / W, 1 - (top + ph / 2 - 6) / H,
             r'$\mathbf{\Psi}_{\mathbf{%s}}$' % sub_labels[i],
             rotation=90, ha='center', va='center', fontsize=19)

# legend in the third panel
handles = [Line2D([], [], color=BLUE, lw=1.3, ls='-'),
           Line2D([], [], color=RED, lw=1.6, ls=(0, (1.1, 2.6))),
           Line2D([], [], color=GREEN, lw=1.3, ls=(0, (20, 4)))]
labels = [r'$\mathbf{10^{%s}}$ eV' % e for e in legend_labels]
axes[2].legend(handles, labels, loc='upper left', bbox_to_anchor=(0.053, 0.78), frameon=False,
               borderpad=0, borderaxespad=0, handlelength=4.7, handletextpad=1.0, labelspacing=0.2,
               prop={'family': 'serif', 'weight': 'bold', 'size': 16.5})

fig.text(518 / W, 1 - 1062 / H, 'a', ha='center', va='center', fontsize=21,
         fontweight='bold', style='italic')

fig.savefig('out.png', dpi=100)
